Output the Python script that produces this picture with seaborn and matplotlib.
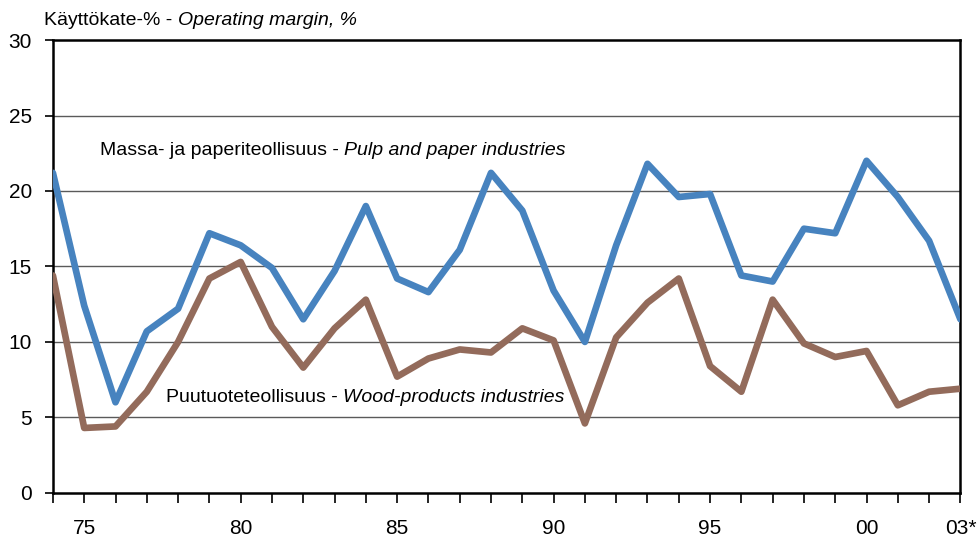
import numpy as np
import pandas as pd
import matplotlib
matplotlib.use("Agg")
import matplotlib.pyplot as plt
import seaborn as sns

# Vuodet 1974-2003
years = list(range(1974, 2004))

# Massa- ja paperiteollisuus (kayttokate-%)
pulp_paper = [21.2, 12.4, 6.0, 10.7, 12.2, 17.2, 16.4, 14.9, 11.5, 14.7,
              19.0, 14.2, 13.3, 16.1, 21.2, 18.7, 13.4, 10.0, 16.4, 21.8,
              19.6, 19.8, 14.4, 14.0, 17.5, 17.2, 22.0, 19.6, 16.7, 11.5]

# Puutuoteteollisuus (kayttokate-%)
wood_products = [14.4, 4.3, 4.4, 6.7, 10.0, 14.2, 15.3, 11.0, 8.3, 10.9,
                 12.8, 7.7, 8.9, 9.5, 9.3, 10.9, 10.1, 4.6, 10.3, 12.6,
                 14.2, 8.4, 6.7, 12.8, 9.9, 9.0, 9.4, 5.8, 6.7, 6.9]

tick_years = [1975, 1980, 1985, 1990, 1995, 2000, 2003]
tick_labels = ["75", "80", "85", "90", "95", "00", "03*"]

df = pd.DataFrame({"year": years, "pulp": pulp_paper, "wood": wood_products})

sns.set_style("white")
plt.rcParams["font.family"] = ["Liberation Sans", "DejaVu Sans"]
plt.rcParams["text.color"] = "black"
plt.rcParams["xtick.color"] = "black"
plt.rcParams["ytick.color"] = "black"

fig = plt.figure(figsize=(9.8, 5.41), dpi=100)
ax = fig.add_axes([0.054, 0.089, 0.926, 0.837])

for y in [5, 10, 15, 20, 25]:
    ax.axhline(y, color="#5a5a5a", lw=1.0, zorder=1)

sns.lineplot(data=df, x="year", y="wood", ax=ax, color="#936b5b", lw=4.8, zorder=3)
sns.lineplot(data=df, x="year", y="pulp", ax=ax, color="#4783bf", lw=4.8, zorder=4)

ax.set_xlim(1974, 2003)
ax.set_ylim(0, 30)
ax.set_yticks([0, 5, 10, 15, 20, 25, 30])
ax.set_xticks(years, minor=True)
ax.set_xticks(tick_years)
ax.set_xticklabels(tick_labels)
ax.set_xlabel("")
ax.set_ylabel("")

ax.tick_params(axis="y", which="major", direction="out", length=6, width=1.2,
               labelsize=15, pad=9, left=True)
ax.tick_params(axis="x", which="both", direction="out", length=7, width=1.2,
               labelsize=15, pad=12, bottom=True)
ax.tick_params(axis="x", which="minor", length=7)

for side in ["left", "bottom", "top", "right"]:
    ax.spines[side].set_visible(True)
    ax.spines[side].set_color("black")
    ax.spines[side].set_linewidth(1.8)

# otsikko kahdessa osassa (kursiivi englanniksi)
t1 = fig.text(0.045, 0.962, "Käyttökate-% - ", fontsize=14, ha="left", va="center")
fig.canvas.draw()
bb = t1.get_window_extent()
x_end = fig.transFigure.inverted().transform((bb.x1, bb.y0))[0]
fig.text(x_end, 0.962, "Operating margin, %", fontsize=14, style="italic",
         ha="left", va="center")

def two_part_label(x, y, plain, italic):
    t = ax.text(x, y, plain, fontsize=14, ha="left", va="center", zorder=5)
    fig.canvas.draw()
    b = t.get_window_extent()
    xd = ax.transData.inverted().transform((b.x1, b.y0))[0]
    ax.text(xd, y, italic, fontsize=14, style="italic", ha="left", va="center", zorder=5)

two_part_label(1975.5, 22.7, "Massa- ja paperiteollisuus - ", "Pulp and paper industries")
two_part_label(1977.6, 6.3, "Puutuoteteollisuus - ", "Wood-products industries")

fig.savefig("out.png", dpi=100)
